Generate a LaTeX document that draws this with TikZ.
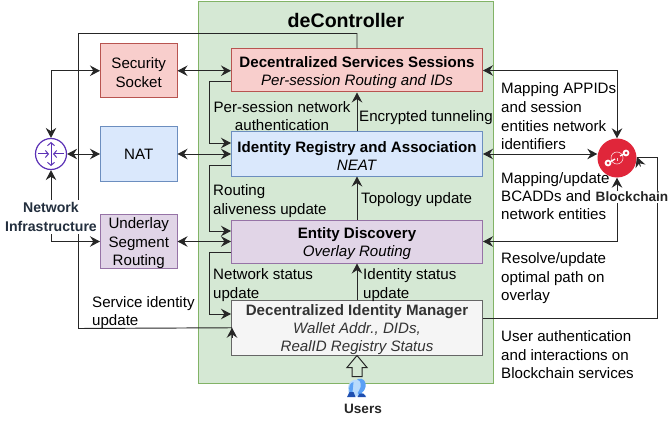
\documentclass[tikz,border=0pt]{standalone}
\usepackage{fontspec}
\setmainfont{Liberation Sans}
\usetikzlibrary{arrows.meta,calc}
\definecolor{gfill}{HTML}{D5E8D4}\definecolor{gline}{HTML}{82B366}
\definecolor{rfill}{HTML}{F8CECC}\definecolor{rline}{HTML}{B85450}
\definecolor{bfill}{HTML}{DAE8FC}\definecolor{bline}{HTML}{6C8EBF}
\definecolor{pfill}{HTML}{E1D5E7}\definecolor{pline}{HTML}{9673A6}
\definecolor{wfill}{HTML}{F5F5F5}\definecolor{wline}{HTML}{666666}
\definecolor{wtext}{HTML}{333333}\definecolor{slate}{HTML}{232F3E}
\definecolor{routerc}{HTML}{5A30B5}\definecolor{chain}{HTML}{E0263A}
\definecolor{headb}{HTML}{5AA0F5}\definecolor{headl}{HTML}{B8DAFC}\definecolor{headd}{HTML}{1F4FB0}
\tikzset{
  x=1pt,y=-1pt,
  hd/.tip={Stealth[length=10pt,width=10.5pt,inset=3.4pt]},
  txt/.style={font=\fontsize{15.1}{18.4}\selectfont,inner sep=0pt},
  lbl/.style={txt,anchor=west,align=left,yshift=-1.2pt},
  box/.style={txt,draw,line width=1pt,align=center},
  side/.style={box,minimum width=76.5pt,minimum height=54pt},
  wide/.style={box,minimum width=251pt},
  cap/.style n args={2}{label={[txt,align=center,yshift=-1.8pt,text=#1]center:{#2}}},
  conn/.style={line width=.95pt,black!85},
  one/.style={conn,-{hd}},
  both/.style={conn,{hd}-{hd}},
  bold/.style={txt,font=\bfseries\fontsize{13.6}{18.2}\selectfont,align=center},
}
\begin{document}
\begin{tikzpicture}
\useasboundingbox (0,0) rectangle (668,422);
\node[draw=gline,fill=gfill,line width=1pt,minimum width=295pt,minimum height=381.5pt,inner sep=0pt] (ctl) at (346,192.25) {};
\node[font=\bfseries\fontsize{19.6}{21}\selectfont,inner sep=0pt] (title) at (346,20) {deController};
\node[side,fill=rfill,draw=rline,cap={black}{Security\\Socket}] (sec) at (138.75,70.75) {};
\node[side,fill=bfill,draw=bline] (nat) at (138.75,154) {NAT};
\node[side,fill=pfill,draw=pline,cap={black}{Underlay\\Segment\\Routing}] (usr) at (138.75,241.5) {};
\node[wide,fill=rfill,draw=rline,minimum height=43pt,cap={black}{\textbf{Decentralized Services Sessions}\\\textit{Per-session Routing and IDs}}] (dss) at (357,70.5) {};
\node[wide,fill=bfill,draw=bline,minimum height=44pt,cap={black}{\textbf{Identity Registry and Association}\\\textit{NEAT}}] (ira) at (357,154) {};
\node[wide,fill=pfill,draw=pline,minimum height=43pt,cap={black}{\textbf{Entity Discovery}\\\textit{Overlay Routing}}] (ed) at (357,241.5) {};
\node[wide,fill=wfill,draw=wline,minimum height=54.5pt,cap={wtext}{\textbf{Decentralized Identity Manager}\\\textit{Wallet Addr., DIDs,}\\\textit{RealID Registry Status}}] (dim) at (357,327.75) {};
\node[circle,draw=routerc,line width=1.2pt,minimum size=31pt,inner sep=0pt] (rt) at (51,154) {};
\node[circle,fill=chain,minimum size=39pt,inner sep=0pt] (bc) at (617,158) {};
% router glyph
\begin{scope}[shift={(rt.center)},routerc,line width=1pt,
  tp/.tip={Straight Barb[length=3pt,width=7pt]}]
  \draw[-{tp}] (-13,0) -- (-2,0);
  \draw[-{tp}] (13,0) -- (2,0);
  \draw[{tp}-{tp}] (0,-12) -- (0,12);
\end{scope}
% blockchain glyph
\begin{scope}[shift={(bc.center)}]
  \draw[white!80!chain,line width=.6pt] (0,0) circle (6);
  \draw[white!80!chain,line width=.5pt] (0,0) -- (0,3);
  \draw[white,line width=1.3pt] (-7,4) -- (-2,1) (3,-2) -- (7,-4);
  \foreach \p in {(-9,5),(9,-5)}{\fill[white] \p circle (3.4);\fill[chain] \p circle (1.5);}
\end{scope}
% connectors
\draw[both] (sec.east) -- (sec.east -| dss.west);
\draw[both] (nat.east) -- (nat.east -| ira.west);
\draw[both] (usr.east) -- (usr.east -| ed.west);
\draw[both] (nat.west) -- (rt.east);
\draw[both] (rt.north) |- (sec.west);
\draw[one] ([yshift=-10.5pt]dss.west) -- ++(-22,0) |- ([yshift=11pt]ira.west);
\draw[one] ([yshift=-11pt]ira.west) -- ++(-22,0) |- ([yshift=10.5pt]ed.west);
\draw[one] ([yshift=-10.5pt]ed.west) -- ++(-22,0) |- ([yshift=13.75pt]dim.west);
\draw[one] (ira.north) -- (dss.south);
\draw[one] (ed.north) -- (ira.south);
\draw[one] (dim.north) -- (ed.south);
\draw[both] (dss.east) -| (bc.north);
\draw[both] (ira.east) -- (ira.east -| bc.west);
\draw[both] (ed.east) -| (bc.south);
\coordinate (dimin) at ([xshift=1pt]dim.west);
\draw[conn] (dss.north) -- ++(0,-15) -| (78.5,328.5) -- (dimin);
\draw[one] ([yshift=-10pt]dimin) -- (dimin);
\coordinate (bcin) at (637,157);
\coordinate (dimout) at ([yshift=9.75pt]dim.east);
\draw[conn] (dimout) -- ++(174,0) |- (bcin);
\draw[one] ($(bcin)+(3.5,9.5)$) -- (bcin);
% users
\node[inner sep=0pt,minimum width=20pt,minimum height=18pt] (ic) at (356.5,388) {};
\draw[line width=1pt,black!85,fill=gfill] (dim.south) -- ++(10,12) -- ++(-5,0) -- ++(0,9) -- ++(-10,0) -- ++(0,-9) -- ++(-5,0) -- cycle;
\begin{scope}[shift={(ic.center)}]
  \fill[headb] (1,-9) .. controls (7,-11) and (10,-6) .. (9,-1) .. controls (8,3) and (6,4) .. (5,5) -- (9.5,8) -- (-2,8) -- (-1,-2) -- cycle;
  \fill[headl] (-3,-8) .. controls (3,-10) and (5,-5) .. (4,-1) .. controls (3,2) and (2,3) .. (1,5) -- (3,8) -- (-8,8) -- (-8,4) .. controls (-9,-2) and (-8,-6) .. (-3,-8);
  \fill[headb] (-7,4) .. controls (-8,-1) and (-7,-5) .. (-3,-6) -- (-4,4) -- cycle;
  \fill[headd] (-9.5,9) -- (-7,4) -- (-3,4) -- (-1,9) -- cycle;
  \fill[headd] (1,9) -- (3,5.5) -- (7,5.5) -- (9.5,9) -- cycle;
\end{scope}
\node[bold,text=black!85] (ut) at (363,409) {Users};
% labels
\node[txt,anchor=west,fill=white,yshift=-1.2pt] (l1a) at (501,88) {Mapping APPIDs};
\node[lbl] (l1b) at (501,124.5) {and session\\entities network\\identifiers};
\node[lbl] (l2) at (501,195) {Mapping/update\\BCADDs and\\network entities};
\node[lbl] (l3) at (501,277) {Resolve/update\\optimal path on\\overlay};
\node[lbl] (l4) at (501,353.5) {User authentication\\and interactions on\\Blockchain services};
\node[txt,align=center,yshift=-1.2pt] (l5) at (282,115) {Per-session network\\authentication};
\node[lbl] (l6) at (359,116) {Encrypted tunneling};
\node[lbl] (l7) at (213,200) {Routing\\aliveness update};
\node[lbl] (l8) at (361,198) {Topology update};
\node[lbl] (l9) at (213,284) {Network status\\update};
\node[lbl] (l10) at (363,284) {Identity status\\update};
\node[lbl] (l11) at (92,311.5) {Service identity\\update};
\node[bold,font=\bfseries\fontsize{14.1}{18.2}\selectfont,fill=white,text=slate,minimum height=34pt] (inf) at (51,217) {Network\\Infrastructure};
\node[bold,fill=white,text=black!85,inner ysep=1pt] (bt) at (632,197) {Blockchain};
\draw[one] (inf.north) -- (rt.south);
\draw[one] (inf.south) |- (usr.west);
\end{tikzpicture}
\end{document}
